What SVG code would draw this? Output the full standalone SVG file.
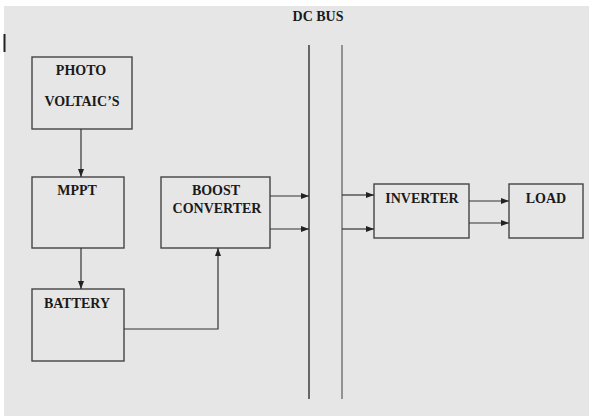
<svg xmlns="http://www.w3.org/2000/svg" width="589" height="416" viewBox="0 0 589 416">
  <style>
    .box { fill: none; stroke: #444; stroke-width: 1.4; }
    .lbl { font-family: "Liberation Serif", "Times New Roman", serif; font-weight: bold; font-size: 14px; fill: #1a1a1a; text-anchor: middle; }
    .wire { fill: none; stroke: #333; stroke-width: 1.2; }
  </style>
  <defs>
    <marker id="arr" markerUnits="userSpaceOnUse" markerWidth="8" markerHeight="8" viewBox="0 0 8 8" refX="8" refY="4" orient="auto">
      <path d="M0,1 L8,4 L0,7 Z" fill="#222"/>
    </marker>
  </defs>
  <rect x="0" y="0" width="589" height="416" fill="#ffffff"/>
  <rect x="4" y="6" width="585" height="410" fill="#e6e6e6"/>
  <rect x="3.5" y="34" width="2" height="18" fill="#222"/>

  <text class="lbl" x="318" y="21">DC BUS</text>

  <g id="photovoltaic">
    <rect class="box" x="32" y="57" width="100" height="72"/>
    <text class="lbl" x="81" y="75">PHOTO</text>
    <text class="lbl" x="82" y="106">VOLTAIC’S</text>
  </g>
  <g id="mppt">
    <rect class="box" x="32" y="177" width="92" height="71"/>
    <text class="lbl" x="77" y="195">MPPT</text>
  </g>
  <g id="battery">
    <rect class="box" x="32" y="289" width="92" height="72"/>
    <text class="lbl" x="77" y="308">BATTERY</text>
  </g>
  <g id="boost">
    <rect class="box" x="161" y="177" width="109" height="71"/>
    <text class="lbl" x="216" y="195">BOOST</text>
    <text class="lbl" x="217" y="213">CONVERTER</text>
  </g>
  <g id="dcbus">
    <line x1="309" y1="45" x2="309" y2="399" stroke="#222" stroke-width="1.3"/>
    <line x1="342" y1="45" x2="342" y2="399" stroke="#666" stroke-width="1.3"/>
  </g>
  <g id="inverter">
    <rect class="box" x="374" y="184" width="95" height="54"/>
    <text class="lbl" x="422" y="203">INVERTER</text>
  </g>
  <g id="load">
    <rect class="box" x="509" y="184" width="74" height="54"/>
    <text class="lbl" x="546" y="203">LOAD</text>
  </g>

  <g id="connectors">
    <line class="wire" x1="81" y1="129" x2="81" y2="177" marker-end="url(#arr)"/>
    <line class="wire" x1="81" y1="248" x2="81" y2="289" marker-end="url(#arr)"/>
    <polyline class="wire" points="124,329 218,329 218,248" marker-end="url(#arr)"/>
    <line class="wire" x1="270" y1="196" x2="309" y2="196" marker-end="url(#arr)"/>
    <line class="wire" x1="270" y1="229" x2="309" y2="229" marker-end="url(#arr)"/>
    <line class="wire" x1="342" y1="195" x2="374" y2="195" marker-end="url(#arr)"/>
    <line class="wire" x1="342" y1="229" x2="374" y2="229" marker-end="url(#arr)"/>
    <line class="wire" x1="469" y1="201" x2="509" y2="201" marker-end="url(#arr)"/>
    <line class="wire" x1="469" y1="223" x2="509" y2="223" marker-end="url(#arr)"/>
  </g>
</svg>
